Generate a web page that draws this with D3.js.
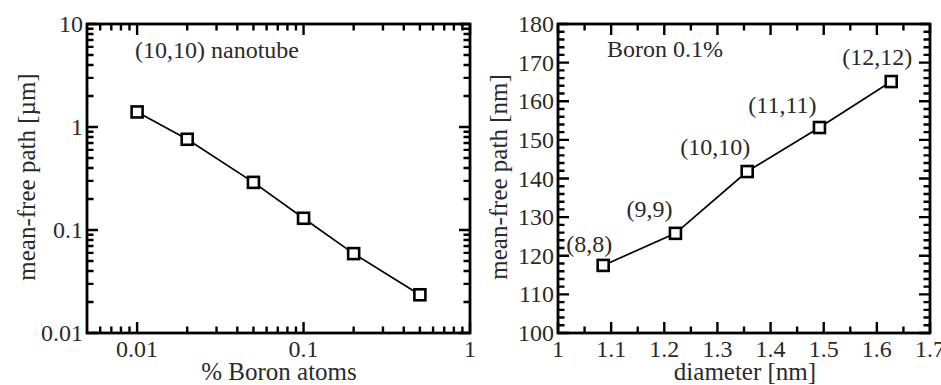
<!DOCTYPE html>
<html>
<head>
<meta charset="utf-8">
<script src="https://cdn.jsdelivr.net/npm/d3@7"></script>
<style>
  html, body { margin: 0; padding: 0; background: #fff; }
  svg { display: block; }
</style>
</head>
<body>
<svg id="chart" width="941" height="385"></svg>
<script>
// Left panel: mean-free path vs. boron concentration, (10,10) tube
const boronPercent = [0.01, 0.02, 0.05, 0.1, 0.2, 0.5];
const mfpMicron    = [1.4, 0.76, 0.29, 0.13, 0.059, 0.0235];
const leftXTicks   = [0.01, 0.1, 1];
const leftYTicks   = [0.01, 0.1, 1, 10];

// Right panel: mean-free path vs. tube diameter at 0.1% boron
const tubeLabels   = ["(8,8)", "(9,9)", "(10,10)", "(11,11)", "(12,12)"];
const diameterNm   = [1.085, 1.221, 1.356, 1.492, 1.627];
const mfpNm        = [117.5, 125.8, 141.8, 153.2, 165.1];
const rightXTicks  = [1, 1.1, 1.2, 1.3, 1.4, 1.5, 1.6, 1.7];
const rightYTicks  = [100, 110, 120, 130, 140, 150, 160, 170, 180];

// label placement relative to each marker (dx to text centre, dy to baseline)
const labelOffsets = [[-14, -13], [-26, -16], [-32, -17], [-37, -15], [-14, -17]];

const svg = d3.select("#chart");
const MAJOR = 11, MINOR = 6.5;
const INK = "#2a2a2a";
const FONT = "Liberation Serif";

// inward tick marks on all four sides, collected into one path per panel
function tickPath(x, y, xMajor, xMinor, yMajor, yMinor) {
  const [x0, x1] = x.range(), [y0, y1] = y.range();
  const p = d3.path();
  const vx = (vals, len) => vals.forEach(v => {
    const px = x(v);
    p.moveTo(px, y0); p.lineTo(px, y0 - len);
    p.moveTo(px, y1); p.lineTo(px, y1 + len);
  });
  const hy = (vals, len) => vals.forEach(v => {
    const py = y(v);
    p.moveTo(x0, py); p.lineTo(x0 + len, py);
    p.moveTo(x1, py); p.lineTo(x1 - len, py);
  });
  vx(xMajor, MAJOR); vx(xMinor, MINOR);
  hy(yMajor, MAJOR); hy(yMinor, MINOR);
  return p.toString();
}

function frame(g, x, y, xMajor, xMinor, yMajor, yMinor) {
  const [x0, x1] = x.range(), [y0, y1] = y.range();
  g.append("rect")
    .attr("x", x0).attr("y", y1).attr("width", x1 - x0).attr("height", y0 - y1)
    .attr("fill", "none").attr("stroke", "#000").attr("stroke-width", 2.8);
  g.append("path")
    .attr("d", tickPath(x, y, xMajor, xMinor, yMajor, yMinor))
    .attr("fill", "none").attr("stroke", "#000").attr("stroke-width", 2.4);
}

function logMinors(lo, hi) {
  const out = [];
  for (let e = Math.floor(Math.log10(lo)); e < Math.ceil(Math.log10(hi)); e++) {
    for (let m = 2; m <= 9; m++) {
      const v = m * Math.pow(10, e);
      if (v > lo * 1.0001 && v < hi * 0.9999) out.push(v);
    }
  }
  return out;
}

function series(g, xs, ys, x, y) {
  const pts = xs.map((v, i) => [v, ys[i]]);
  g.append("path").datum(pts)
    .attr("d", d3.line().x(d => x(d[0])).y(d => y(d[1])))
    .attr("fill", "none").attr("stroke", "#000").attr("stroke-width", 1.7);
  g.selectAll("rect.pt").data(pts).join("rect")
    .attr("class", "pt")
    .attr("x", d => x(d[0]) - 5.5).attr("y", d => y(d[1]) - 5.5)
    .attr("width", 11).attr("height", 11)
    .attr("fill", "#fff").attr("stroke", "#000").attr("stroke-width", 2.6);
}

function label(g, x, yPos, txt, opts = {}) {
  return g.append("text").attr("x", x).attr("y", yPos)
    .attr("fill", INK)
    .attr("font-family", FONT)
    .attr("font-size", opts.size || 25)
    .attr("text-anchor", opts.anchor || "start")
    .attr("transform", opts.transform || null)
    .text(txt);
}

function tickLabels(g, x, y, xMajor, yMajor, fmt) {
  const [x0] = x.range(), [y0] = y.range();
  xMajor.forEach(v => label(g, x(v), y0 + 24, fmt(v), { anchor: "middle", size: 24 }));
  yMajor.forEach(v => label(g, x0 - 4, y(v) + 8, fmt(v), { anchor: "end", size: 24 }));
}

// ---------- left panel ----------
{
  const x = d3.scaleLog().domain([0.005, 1]).range([87, 470]);
  const y = d3.scaleLog().domain([0.01, 10]).range([333, 24]);
  const g = svg.append("g");

  series(g, boronPercent, mfpMicron, x, y);
  frame(g, x, y, leftXTicks, logMinors(0.005, 1), leftYTicks, logMinors(0.01, 10));
  tickLabels(g, x, y, leftXTicks, leftYTicks, String);

  label(g, 279, 380, "% Boron atoms", { anchor: "middle" });
  label(g, 0, 0, "mean-free path [µm]", { anchor: "middle", transform: "translate(35,177) rotate(-90)" });
  label(g, 135, 58, "(10,10) nanotube", { size: 24 });
}

// ---------- right panel ----------
{
  const x = d3.scaleLinear().domain([1, 1.7]).range([558, 930]);
  const y = d3.scaleLinear().domain([100, 180]).range([333, 24]);
  const g = svg.append("g");

  const xMinor = rightXTicks.slice(0, -1).map(v => v + 0.05);
  const yMinor = d3.range(100, 180, 2).filter(v => v % 10 !== 0);
  series(g, diameterNm, mfpNm, x, y);
  frame(g, x, y, rightXTicks, xMinor, rightYTicks, yMinor);
  tickLabels(g, x, y, rightXTicks, rightYTicks, d => String(d));

  tubeLabels.forEach((t, i) => {
    label(g, x(diameterNm[i]) + labelOffsets[i][0], y(mfpNm[i]) + labelOffsets[i][1], t,
      { anchor: "middle", size: 24 });
  });

  label(g, 745, 380, "diameter [nm]", { anchor: "middle" });
  label(g, 0, 0, "mean-free path [nm]", { anchor: "middle", transform: "translate(507,177) rotate(-90)" });
  label(g, 607, 57, "Boron 0.1%", { size: 24 });
}
</script>
</body>
</html>
